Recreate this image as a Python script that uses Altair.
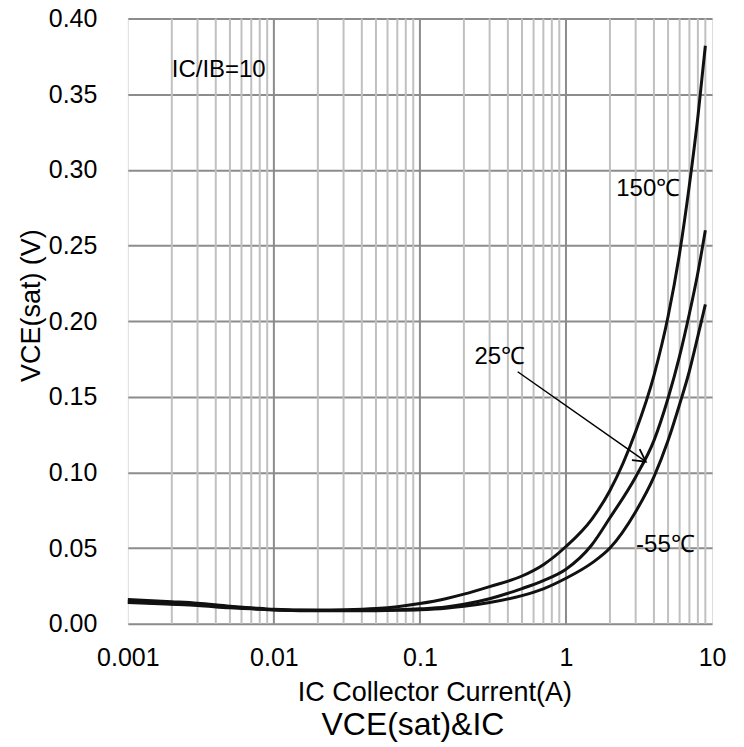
import altair as alt
import pandas as pd

# ---- data ----
ic = [0.001, 0.002, 0.003, 0.005, 0.007, 0.01, 0.015, 0.02, 0.03, 0.05, 0.07,
      0.1, 0.15, 0.2, 0.3, 0.5, 0.7, 1, 1.5, 2, 3, 4, 5, 6, 7, 8, 9]
v150 = [0.016, 0.0145, 0.0135, 0.0115, 0.0105, 0.0095, 0.009, 0.009, 0.0092, 0.0100, 0.0112,
        0.0133, 0.0165, 0.0195, 0.0245, 0.0315, 0.039, 0.051, 0.069, 0.088, 0.127, 0.164, 0.203,
        0.245, 0.290, 0.335, 0.382]
v25 = [0.0145, 0.0132, 0.0125, 0.011, 0.010, 0.0092, 0.0088, 0.0087, 0.0087, 0.0089, 0.0092,
       0.0098, 0.011, 0.0128, 0.0165, 0.0232, 0.0285, 0.036, 0.052, 0.070, 0.097, 0.121, 0.149,
       0.177, 0.205, 0.232, 0.260]
vm55 = [0.014, 0.0128, 0.012, 0.0105, 0.0098, 0.009, 0.0086, 0.0085, 0.0085, 0.0086, 0.0088,
        0.0092, 0.0102, 0.0115, 0.014, 0.0185, 0.023, 0.030, 0.040, 0.050, 0.074, 0.097, 0.121,
        0.145, 0.167, 0.190, 0.211]
series_names = ["150℃", "25℃", "-55℃"]

decade_ticks = [0.001, 0.01, 0.1, 1, 10]
decade_grid = [0.01, 0.1, 1]
minor_grid = [m * d for d in [0.001, 0.01, 0.1, 1] for m in range(2, 10)]
y_ticks = [0, 0.05, 0.10, 0.15, 0.20, 0.25, 0.30, 0.35, 0.40]

label_text = ["150℃", "25℃", "-55℃", "IC/IB=10"]
label_x = [2.21, 0.236, 3.02, 0.002]
label_y = [0.287, 0.176, 0.052, 0.366]

arrow_x = [0.467]
arrow_y = [0.1665]
arrow_x2 = [3.52]
arrow_y2 = [0.1071]

# ---- tables ----
rows = []
for name, vals in zip(series_names, [v150, v25, vm55]):
    for x, y in zip(ic, vals):
        rows.append({"ic": x, "v": y, "t": name})
curves = pd.DataFrame(rows)
minor_df = pd.DataFrame({"x": minor_grid})
major_df = pd.DataFrame({"x": decade_grid})
labels_df = pd.DataFrame({"x": label_x, "y": label_y, "text": label_text})
arrow_df = pd.DataFrame({"x": arrow_x, "y": arrow_y, "x2": arrow_x2, "y2": arrow_y2})

FONT = "Liberation Sans"
xscale = alt.Scale(type="log", domain=[0.001, 10], nice=False)
yscale = alt.Scale(domain=[0, 0.4], nice=False)

xaxis = alt.Axis(values=decade_ticks, format="~g", grid=False, ticks=False, tickSize=0,
                 domain=False, labelFlush=False, labelFontSize=25, labelFont=FONT,
                 labelColor="black", labelPadding=22, title="IC Collector Current(A)",
                 titleFont=FONT, titleFontSize=27, titleFontWeight="normal",
                 titleColor="black", titlePadding=9, titleX=307)
yaxis = alt.Axis(values=y_ticks, format=".2f", grid=True, gridColor="#8c8c8c", gridWidth=2,
                 ticks=False, tickSize=0, domain=False, labelFlush=False, labelFontSize=25,
                 labelFont=FONT, labelColor="black", labelPadding=31, title="VCE(sat) (V)",
                 titleFont=FONT, titleFontSize=27, titleFontWeight="normal",
                 titleColor="black", titlePadding=3, titleY=287)

minor = alt.Chart(minor_df).mark_rule(color="#c0c0c0", strokeWidth=2).encode(
    x=alt.X("x:Q", scale=xscale, axis=xaxis))
major = alt.Chart(major_df).mark_rule(color="#8c8c8c", strokeWidth=2).encode(
    x=alt.X("x:Q", scale=xscale))
hgrid = alt.Chart(pd.DataFrame({"y": y_ticks})).mark_point(opacity=0).encode(
    y=alt.Y("y:Q", scale=yscale, axis=yaxis))

lines = alt.Chart(curves).mark_line(color="#111111", strokeWidth=3, interpolate="monotone").encode(
    x=alt.X("ic:Q", scale=xscale),
    y=alt.Y("v:Q", scale=yscale),
    detail="t:N")

texts = alt.Chart(labels_df).mark_text(align="left", baseline="middle", fontSize=24,
                                        font=FONT, color="black").encode(
    x=alt.X("x:Q", scale=xscale), y=alt.Y("y:Q", scale=yscale), text="text:N")

arrow_line = alt.Chart(arrow_df).mark_rule(color="black", strokeWidth=1.5).encode(
    x=alt.X("x:Q", scale=xscale), y=alt.Y("y:Q", scale=yscale), x2="x2:Q", y2="y2:Q")
arrow_head = alt.Chart(arrow_df).mark_point(
    shape="M-1,-0.55L0,0L-1,0.55", filled=False, stroke="black", strokeWidth=1.8,
    size=600, angle=35, opacity=1).encode(
    x=alt.X("x2:Q", scale=xscale), y=alt.Y("y2:Q", scale=yscale))

chart = alt.layer(minor, major, hgrid, lines, arrow_line, arrow_head, texts).properties(
    width=585, height=606,
    autosize=alt.AutoSizeParams(type="none"),
    padding={"left": 120, "top": 10, "right": 24, "bottom": 120},
    title=alt.TitleParams("VCE(sat)&IC", orient="bottom", fontSize=32, font=FONT,
                          fontWeight="normal", color="black", offset=4, baseline="top",
                          dx=-7),
).configure_view(stroke="black", strokeWidth=2).configure(background="white")

chart.save("out.html", embed_options={"renderer": "svg", "actions": False})
